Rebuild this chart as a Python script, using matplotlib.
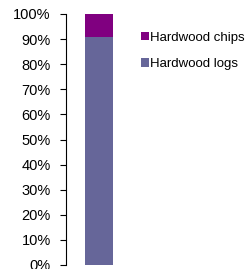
import matplotlib
matplotlib.use("Agg")
import matplotlib.pyplot as plt
import matplotlib.ticker as mticker

plt.rcParams['font.family'] = ['Liberation Sans', 'DejaVu Sans']

# dati
categories = ['']
series_names = ['Hardwood logs', 'Hardwood chips']
series_values = [[0.91], [0.09]]
series_colors = ['#666699', '#800080']
y_ticks = [i / 10 for i in range(11)]

fig = plt.figure(figsize=(2.49, 2.69), dpi=100)
ax = fig.add_axes([66 / 249, 4 / 269, 66 / 249, 251 / 269])

bottom = [0.0] * len(categories)
handles = []
for name, vals, col in zip(series_names, series_values, series_colors):
    h = ax.bar(range(len(categories)), vals, width=0.41, bottom=bottom,
               color=col, label=name)
    handles.append(h)
    bottom = [b + v for b, v in zip(bottom, vals)]

ax.set_xlim(-0.5, 0.5)
ax.set_ylim(0, 1)
ax.set_yticks(y_ticks)
ax.yaxis.set_major_formatter(mticker.FuncFormatter(lambda v, _: f'{v * 100:.0f}%'))
ax.tick_params(axis='y', length=4, width=0.8, pad=7, labelsize=10.5, color='black')
ax.set_xticks([])
for s in ['top', 'right', 'bottom']:
    ax.spines[s].set_visible(False)
ax.spines['left'].set_linewidth(0.8)

leg = fig.legend(handles[::-1], series_names[::-1], loc='upper left',
                 bbox_to_anchor=(134 / 249, 1 - 25 / 269), frameon=False,
                 fontsize=9.5, handlelength=0.6, handleheight=0.6,
                 handletextpad=0.15, labelspacing=1.1, borderpad=0)

fig.savefig('out.png', dpi=100)
